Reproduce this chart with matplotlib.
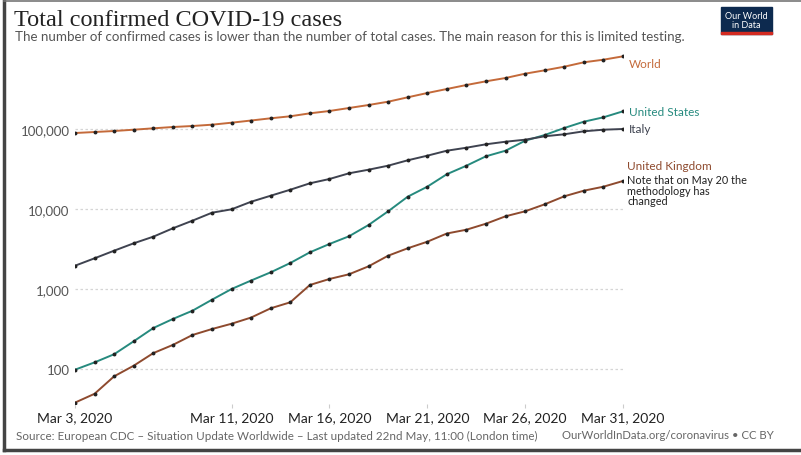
import matplotlib
matplotlib.use("Agg")
import matplotlib.pyplot as plt
import numpy as np
import pandas as pd
from matplotlib.patches import Rectangle

# Daily confirmed totals, Mar 3 - Mar 31 2020
dates = pd.date_range("2020-03-03", "2020-03-31", freq="D")

world = [89100, 91700, 94400, 98000, 102000, 105900, 109000, 113200, 119900,
         127700, 136100, 144200, 157000, 167900, 183000, 199500, 219400,
         248900, 281800, 316200, 354800, 394600, 434000, 491500, 541500,
         600800, 682000, 735000, 810000]
united_states = [98, 121, 153, 222, 325, 422, 535, 735, 1000, 1277, 1617, 2113,
                 2874, 3652, 4560, 6310, 9360, 14250, 19000, 27230, 34780,
                 45600, 53540, 71400, 84100, 102900, 123400, 140000, 166400]
italy = [1954, 2420, 3013, 3726, 4508, 5736, 7145, 8988, 9910, 12330, 14660,
         17420, 20940, 23710, 27940, 30990, 34790, 40620, 46380, 53540, 58350,
         64400, 69350, 73500, 81100, 85900, 93600, 98000, 100000]
united_kingdom = [38, 49, 81, 110, 158, 200, 266, 316, 368, 440, 574, 682, 1122,
                  1334, 1527, 1921, 2608, 3228, 3899, 4940, 5510, 6550, 8110,
                  9360, 11450, 14410, 16940, 19000, 22390]

series = [
    ("World", world, "#c46a3a"),
    ("United States", united_states, "#268a7e"),
    ("Italy", italy, "#3f4350"),
    ("United Kingdom", united_kingdom, "#8e4a2e"),
]

tick_dates = pd.to_datetime(["2020-03-03", "2020-03-11", "2020-03-16",
                             "2020-03-21", "2020-03-26", "2020-03-31"])
y_ticks = [100, 1000, 10000, 100000]

W, H = 801, 456
SANS = ["Lato", "DejaVu Sans"]

fig = plt.figure(figsize=(W / 100, H / 100), dpi=100)


def fx(px):
    return px / W


def fy(py):
    return 1 - py / H


# plot area in pixels: x 75..623, y 55..405
ax = fig.add_axes([fx(75), fy(405), fx(623) - fx(75), fy(55) - fy(405)])
ax.set_yscale("log")
ax.set_ylim(10 ** (5 - 275 / 80), 10 ** (5 + 75 / 80))
ax.set_xlim(dates[0], dates[-1])

for name, vals, color in series:
    ax.plot(dates, vals, color=color, lw=1.4, zorder=3)
    ax.plot(dates, vals, ls="none", marker="o", ms=1.8, color="#222222", zorder=4)

ax.set_yticks(y_ticks)
ax.set_yticklabels([f"{v:,}" for v in y_ticks], fontsize=9.5, color="#555555",
                   family=SANS)
ax.yaxis.set_minor_locator(matplotlib.ticker.NullLocator())
ax.tick_params(axis="y", length=0, pad=4)
ax.grid(axis="y", which="major", ls=(0, (2, 2)), color="#d5d5d5", lw=0.9)

ax.set_xticks(tick_dates)
ax.set_xticklabels([f"Mar {d.day}, 2020" for d in tick_dates], fontsize=10,
                   color="#222222", family=SANS)
ax.tick_params(axis="x", length=3, color="#cccccc", pad=2)
for s in ax.spines.values():
    s.set_visible(False)

# line labels at the right end
ax.annotate("World", (dates[-1], world[-1]), xytext=(4, -5),
            textcoords="offset points", color="#c46a3a", fontsize=8.5,
            family=SANS, va="center")
ax.annotate("United States", (dates[-1], united_states[-1]), xytext=(4, 0),
            textcoords="offset points", color="#268a7e", fontsize=8.5,
            family=SANS, va="center")
ax.annotate("Italy", (dates[-1], italy[-1]), xytext=(4, 0),
            textcoords="offset points", color="#3f4350", fontsize=8.5,
            family=SANS, va="center")
fig.text(fx(627), fy(167), "United Kingdom", color="#8e4a2e", fontsize=8.5,
         family=SANS, va="center")
fig.text(fx(627), fy(175), "Note that on May 20 the\nmethodology has\nchanged",
         color="#222222", fontsize=7.8, family=SANS, va="top", linespacing=0.95)

# header
fig.text(fx(14), fy(20), "Total confirmed COVID-19 cases", fontsize=17.5,
         family=["Liberation Serif", "DejaVu Serif"], color="#222222", va="center")
fig.text(fx(15), fy(37), "The number of confirmed cases is lower than the number "
         "of total cases. The main reason for this is limited testing.",
         fontsize=9.6, family=SANS, color="#555555", va="center")

# logo
fig.patches.append(Rectangle((fx(721), fy(35)), fx(772) - fx(721), fy(8) - fy(35),
                             transform=fig.transFigure, color="#0d2a4f", zorder=5))
fig.patches.append(Rectangle((fx(721), fy(35)), fx(772) - fx(721), 2.5 / H,
                             transform=fig.transFigure, color="#d42b21", zorder=6))
fig.text(fx(746.5), fy(21), "Our World\nin Data", fontsize=6.5, family=SANS,
         color="white", ha="center", va="center", linespacing=0.9, zorder=7)

# footer
fig.text(fx(16), fy(436), "Source: European CDC – Situation Update Worldwide – "
         "Last updated 22nd May, 11:00 (London time)", fontsize=8.4, family=SANS,
         color="#666666", va="center")
fig.text(fx(774), fy(436), "OurWorldInData.org/coronavirus • CC BY", fontsize=8.2,
         family=SANS, color="#666666", va="center", ha="right")

# screenshot frame
frame_kw = dict(transform=fig.transFigure, color="#444444", lw=2.5)
fig.add_artist(plt.Line2D([fx(4), fx(4)], [fy(2), fy(451)], **frame_kw))
fig.add_artist(plt.Line2D([fx(4), 1], [fy(2), fy(2)], color="#777777",
                          lw=1.2, transform=fig.transFigure))
fig.add_artist(plt.Line2D([fx(4), 1], [fy(451), fy(451)], **frame_kw))

fig.savefig("out.png", dpi=100)
